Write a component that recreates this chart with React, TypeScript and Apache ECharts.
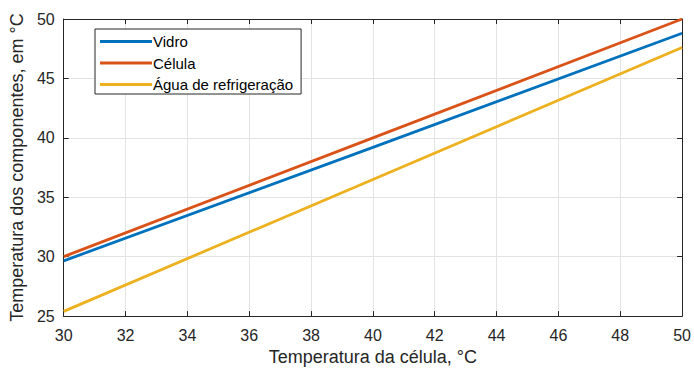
import React, { useEffect, useRef } from "react";
import * as echarts from "echarts";

const xValues = [30, 40, 50];
const vidro = [29.65, 39.2, 48.8];
const celula = [30.0, 40.0, 50.0];
const agua = [25.4, 36.5, 47.6];
const seriesNames = ["Vidro", "Célula", "Água de refrigeração"];
const colors = ["#0072BD", "#D95319", "#EDB120"];

export default function App() {
  const ref = useRef<HTMLDivElement>(null);
  useEffect(() => {
    const chart = echarts.init(ref.current!, undefined, { renderer: "svg" });
    const font = "'Liberation Sans', Arial, sans-serif";
    const axisColor = "#262626";
    const mk = (ys: number[]) => xValues.map((x, i) => [x, ys[i]]);
    const data = [vidro, celula, agua];
    chart.setOption({
      animation: false,
      backgroundColor: "#ffffff",
      grid: { left: 62, right: 7, top: 19, bottom: 52, containLabel: false },
      legend: {
        orient: "vertical",
        left: 95,
        top: 29,
        padding: [5, 8, 2, 5],
        itemGap: 6.5,
        itemWidth: 52,
        itemHeight: 3,
        icon: "rect",
        borderColor: "#262626",
        borderWidth: 1,
        backgroundColor: "#ffffff",
        textStyle: { fontFamily: font, fontSize: 15, color: "#000", padding: [0, 0, 0, -4] },
        data: seriesNames,
      },
      xAxis: [
        {
          type: "value",
          min: 30,
          max: 50,
          interval: 2,
          name: "Temperatura da célula, °C",
          nameLocation: "middle",
          nameGap: 30,
          nameTextStyle: { fontFamily: font, fontSize: 18, color: axisColor },
          axisLine: { show: true, lineStyle: { color: axisColor, width: 1 } },
          axisTick: { show: true, inside: true, length: 5, lineStyle: { color: axisColor } },
          axisLabel: { fontFamily: font, fontSize: 16, color: axisColor, margin: 11 },
          splitLine: { show: true, lineStyle: { color: "#e3e3e3", width: 1 } },
        },
        {
          type: "value",
          position: "top",
          min: 30,
          max: 50,
          interval: 2,
          axisLine: { show: true, lineStyle: { color: axisColor, width: 1 } },
          axisTick: { show: true, inside: true, length: 5, lineStyle: { color: axisColor } },
          axisLabel: { show: false },
          splitLine: { show: false },
        },
      ],
      yAxis: [
        {
          type: "value",
          min: 25,
          max: 50,
          interval: 5,
          name: "Temperatura dos componentes, em °C",
          nameLocation: "middle",
          nameGap: 34,
          nameRotate: 90,
          nameTextStyle: { fontFamily: font, fontSize: 18, color: axisColor },
          axisLine: { show: true, lineStyle: { color: axisColor, width: 1 } },
          axisTick: { show: true, inside: true, length: 5, lineStyle: { color: axisColor } },
          axisLabel: { fontFamily: font, fontSize: 16, color: axisColor, margin: 9 },
          splitLine: { show: true, lineStyle: { color: "#e3e3e3", width: 1 } },
        },
        {
          type: "value",
          position: "right",
          min: 25,
          max: 50,
          interval: 5,
          axisLine: { show: true, lineStyle: { color: axisColor, width: 1 } },
          axisTick: { show: true, inside: true, length: 5, lineStyle: { color: axisColor } },
          axisLabel: { show: false },
          splitLine: { show: false },
        },
      ],
      series: seriesNames.map((name, i) => ({
        name,
        type: "line",
        xAxisIndex: 0,
        yAxisIndex: 0,
        data: mk(data[i]),
        showSymbol: false,
        symbol: "none",
        lineStyle: { color: colors[i], width: 2.8 },
        itemStyle: { color: colors[i] },
        color: colors[i],
      })),
    });
    return () => chart.dispose();
  }, []);
  return (
    <div
      ref={ref}
      style={{ position: "fixed", left: 0, top: 0, width: 694, height: 371 }}
    />
  );
}
